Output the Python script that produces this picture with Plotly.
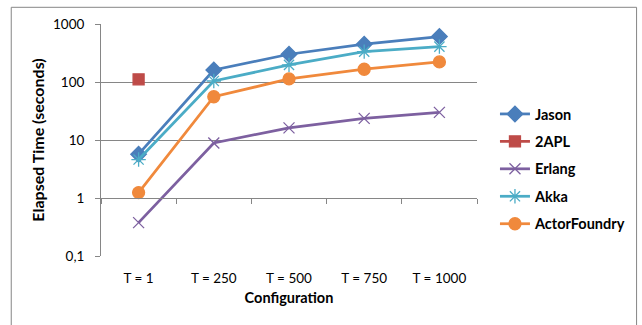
import plotly.graph_objects as go

categories = ["T = 1", "T = 250", "T = 500", "T = 750", "T = 1000"]
jason = [5.7, 161, 301, 449, 607]
twoapl = [111, None, None, None, None]
erlang = [0.376, 8.9, 16.2, 23.6, 29.9]
akka = [4.6, 104, 197, 334, 407]
actorfoundry = [1.24, 55.7, 113, 166, 222]

series = [
    ("Jason", jason, "#4A7EBB", "diamond", 12),
    ("2APL", twoapl, "#BE4B48", "square", 11),
    ("Erlang", erlang, "#7D60A0", "x-thin-open", 11),
    ("Akka", akka, "#4BACC6", "asterisk-open", 12),
    ("ActorFoundry", actorfoundry, "#F0893C", "circle", 12),
]

FONT = "Lato, Carlito, Calibri, sans-serif"
GRAY = "#868686"

fig = go.Figure()
for i, (name, vals, color, sym, size) in enumerate(series):
    fig.add_trace(go.Scatter(
        x=categories, y=vals, name=name, mode="lines+markers",
        line=dict(color=color, width=2.75),
        marker=dict(symbol=sym, size=size, color=color,
                    line=dict(color=color, width=1.3)),
        legendgroup=name, connectgaps=False,
    ))

# helper trace for the category axis that crosses at y = 1
fig.add_trace(go.Scatter(x=[0, 4], y=[1, 1], xaxis="x2", yaxis="y",
                         mode="markers", marker=dict(opacity=0),
                         showlegend=False, hoverinfo="skip"))

ymin, ymax = -1, 3
cross = (0 - ymin) / (ymax - ymin)

fig.update_layout(
    width=642, height=325,
    margin=dict(l=101, r=164, t=24, b=69),
    paper_bgcolor="white", plot_bgcolor="white",
    font=dict(family=FONT, size=13, color="#000000"),
    showlegend=True,
    legend=dict(
        x=1.045, xanchor="left", y=0.375, yanchor="middle",
        xref="paper", yref="paper",
        font=dict(family=FONT, size=14.5, color="#000000", weight="bold"),
        traceorder="grouped", tracegroupgap=5.6,
        itemwidth=30, bgcolor="rgba(0,0,0,0)",
    ),
    xaxis=dict(
        type="category", range=[-0.5, 4.5],
        showgrid=False, showline=False, ticks="", zeroline=False,
        ticklabelstandoff=12,
        tickfont=dict(family=FONT, size=13.5, color="#000000"),
        title=dict(text="<b>Configuration</b>", standoff=8,
                   font=dict(family=FONT, size=14.5, color="#000000")),
        fixedrange=True,
    ),
    xaxis2=dict(
        overlaying="x", anchor="free", position=cross,
        range=[-0.5, 4.5], showgrid=False, zeroline=False,
        showline=True, linecolor=GRAY, linewidth=1,
        tickmode="array", tickvals=[-0.5, 0.5, 1.5, 2.5, 3.5, 4.5],
        ticks="outside", ticklen=5, tickcolor=GRAY, tickwidth=1,
        showticklabels=False, side="bottom",
    ),
    yaxis=dict(
        type="log", range=[ymin, ymax],
        tickmode="array", tickvals=[0.1, 1, 10, 100, 1000],
        ticktext=["0,1", "1", "10", "100", "1000"],
        showgrid=True, gridcolor=GRAY, gridwidth=1,
        showline=True, linecolor=GRAY, linewidth=1,
        ticks="outside", ticklen=5, tickcolor=GRAY,
        ticklabelstandoff=8,
        zeroline=False,
        tickfont=dict(family=FONT, size=13.5, color="#000000"),
        title=dict(text="<b>Elapsed Time (seconds)</b>", standoff=4,
                   font=dict(family=FONT, size=16, color="#000000")),
    ),
    shapes=[dict(type="rect", xref="paper", yref="paper",
                 x0=(11 - 101) / 377, x1=(638 - 101) / 377,
                 y0=(256 - 340) / 232, y1=(256 - 7.3) / 232,
                 line=dict(color=GRAY, width=1), fillcolor="rgba(0,0,0,0)",
                 layer="below")],
)

fig.write_html("out.html")
